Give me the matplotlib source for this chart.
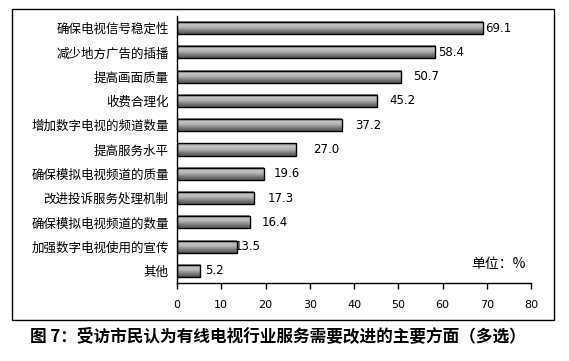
import matplotlib
matplotlib.use("Agg")
import matplotlib.pyplot as plt
import numpy as np
from matplotlib.colors import LinearSegmentedColormap
from matplotlib.patches import Rectangle

plt.rcParams['font.family'] = ['Noto Sans CJK SC', 'DejaVu Sans']

categories = ["确保电视信号稳定性", "减少地方广告的插播", "提高画面质量", "收费合理化",
              "增加数字电视的频道数量", "提高服务水平", "确保模拟电视频道的质量",
              "改进投诉服务处理机制", "确保模拟电视频道的数量", "加强数字电视使用的宣传", "其他"]
values = [69.1, 58.4, 50.7, 45.2, 37.2, 27.0, 19.6, 17.3, 16.4, 13.5, 5.2]
value_labels = ["69.1", "58.4", "50.7", "45.2", "37.2", "27.0", "19.6", "17.3", "16.4", "13.5", "5.2"]
label_pad = [0.5, 0.5, 2.6, 2.9, 3.0, 3.7, 2.2, 3.3, 2.7, -0.5, 1.1]
xticks = [0, 10, 20, 30, 40, 50, 60, 70, 80]

W, H = 569, 361
fig = plt.figure(figsize=(W / 100, H / 100), dpi=100)
fig.patch.set_facecolor("white")

# outer frame
fig.patches.append(Rectangle((12 / W, 1 - 320 / H), (554 - 12) / W, (320 - 9) / H,
                             transform=fig.transFigure, fill=False, edgecolor="black", lw=1.0))

ax = fig.add_axes([177 / W, 1 - 283 / H, (531 - 177) / W, (283 - 16) / H])
n = len(categories)
ypos = np.arange(n)

cmap = LinearSegmentedColormap.from_list("cyl", ["#8a8a8a", "#c4c4c4", "#b0b0b0", "#7a7a7a", "#555555"])
grad = np.linspace(0, 1, 64).reshape(-1, 1)
h = 0.5
for y, v in zip(ypos, values):
    ax.imshow(grad, cmap=cmap, aspect="auto", extent=(0, v, y + h / 2, y - h / 2),
              interpolation="bilinear", zorder=2)
    ax.add_patch(Rectangle((0, y - h / 2), v, h, fill=False, edgecolor="black", lw=1.0, zorder=3))
ax.set_xlim(0, 80)
ax.set_ylim(n - 0.5, -0.5)

for y, v, t, p in zip(ypos, values, value_labels, label_pad):
    ax.text(v + p, y, t, va="center", ha="left", fontsize=8.5, family="DejaVu Sans", color="black")

ax.set_yticks(ypos)
ax.set_yticklabels(categories, fontsize=9)
ax.tick_params(axis="y", length=0, pad=6)
ax.set_xticks(xticks)
ax.set_xticklabels([str(t) for t in xticks], fontsize=8, family="DejaVu Sans")
ax.tick_params(axis="x", length=4, width=1, pad=8, direction="out")
for s in ["top", "right"]:
    ax.spines[s].set_visible(False)
for s in ["left", "bottom"]:
    ax.spines[s].set_linewidth(1.0)

fig.text(471 / W, 1 - 264 / H, "单位：%", fontsize=10, ha="left", va="center")

fig.text(30 / W, 1 - 336 / H, "图 7：受访市民认为有线电视行业服务需要改进的主要方面（多选）",
         fontsize=12, fontweight="bold", ha="left", va="center")

fig.savefig("out.png", dpi=100)
